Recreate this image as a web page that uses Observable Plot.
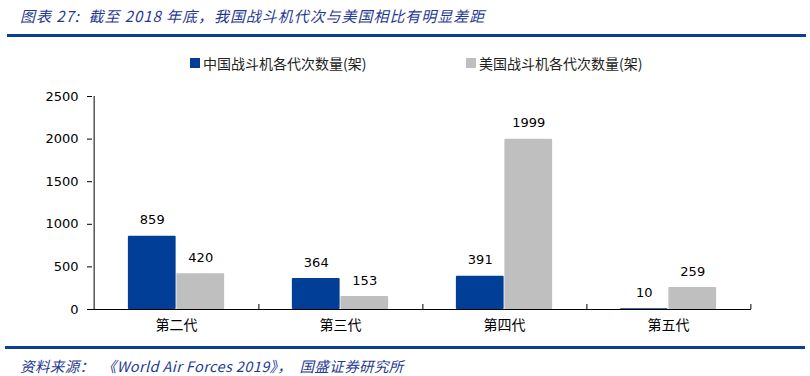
<!DOCTYPE html>
<html>
<head>
<meta charset="utf-8">
<script src="https://cdn.jsdelivr.net/npm/d3@7"></script>
<script src="https://cdn.jsdelivr.net/npm/@observablehq/plot@0.6"></script>
<style>
  body { margin: 0; background: #fff; }
  #wrap { position: relative; width: 810px; height: 376px; overflow: hidden; font-family: "DejaVu Sans", "Noto Sans CJK SC", sans-serif; }
  #wrap svg { position: absolute; left: 0; top: 0; }
  .title { position: absolute; left: 20px; top: 5px; font-family: "Noto Sans CJK SC", sans-serif; font-style: italic; font-size: 15px; color: #1F3A93; white-space: nowrap; letter-spacing: 0.95px; }
  .source { position: absolute; left: 20px; top: 355px; font-family: "Noto Sans CJK SC", sans-serif; font-style: italic; font-size: 14.5px; color: #1F3A93; white-space: pre; letter-spacing: 0.4px; }
  .hr { position: absolute; height: 3px; background: #0B3F93; }
  .leg { position: absolute; top: 53px; font-family: "Noto Sans CJK SC", sans-serif; font-size: 14px; color: #222; white-space: nowrap; display: flex; align-items: center; }
  .sw { width: 10px; height: 10px; display: inline-block; margin-right: 3px; }
</style>
</head>
<body>
<div id="wrap">
  <div class="title">图表 27:&nbsp; 截至 2018 年底，我国战斗机代次与美国相比有明显差距</div>
  <div class="hr" style="left:7px; width:799px; top:34px;"></div>
  <div class="leg" style="left:190px;"><span class="sw" style="background:#003E98"></span>中国战斗机各代次数量(架)</div>
  <div class="leg" style="left:466px;"><span class="sw" style="background:#BFBFBF"></span>美国战斗机各代次数量(架)</div>
  <div class="hr" style="left:5px; width:800px; top:346px;"></div>
  <div class="source">资料来源：  《World Air Forces 2019》，  国盛证券研究所</div>
</div>
<script>
const categories = ["第二代", "第三代", "第四代", "第五代"];
const seriesNames = ["中国战斗机各代次数量(架)", "美国战斗机各代次数量(架)"];
const chinaValues = [859, 364, 391, 10];
const usValues = [420, 153, 1999, 259];
const yTicks = [0, 500, 1000, 1500, 2000, 2500];
const colors = ["#003E98", "#BFBFBF"];

const data = [];
categories.forEach((c, i) => {
  data.push({cat: c, series: seriesNames[0], value: chinaValues[i]});
  data.push({cat: c, series: seriesNames[1], value: usValues[i]});
});

const W = 810, H = 376, mL = 92, mR = 59, mT = 96, mB = 67;
const step = (W - mL - mR) / categories.length;
const barW = 48.5;
const half = step / 2;

const chart = Plot.plot({
  width: W, height: H,
  marginLeft: mL, marginRight: mR, marginTop: mT, marginBottom: mB,
  style: {fontFamily: "DejaVu Sans, sans-serif", fontSize: "12.5px", color: "#000", background: "transparent"},
  x: {domain: categories, padding: 0, axis: null, label: null},
  y: {domain: [0, 2500], axis: null, label: null},
  color: {domain: seriesNames, range: colors},
  marks: [
    Plot.barY(data.filter(d => d.series === seriesNames[0]), {
      x: "cat", y: "value", fill: colors[0],
      insetLeft: half - barW, insetRight: half, rx: 1
    }),
    Plot.barY(data.filter(d => d.series === seriesNames[1]), {
      x: "cat", y: "value", fill: colors[1],
      insetLeft: half, insetRight: half - barW, rx: 1
    }),
    Plot.text(data.filter(d => d.series === seriesNames[0]), {
      x: "cat", y: "value", text: d => String(d.value), dx: -barW / 2, dy: -16,
      fill: "#000", fontSize: 13
    }),
    Plot.text(data.filter(d => d.series === seriesNames[1]), {
      x: "cat", y: "value", text: d => String(d.value), dx: barW / 2, dy: -16,
      fill: "#000", fontSize: 13
    }),
    // x axis baseline
    Plot.ruleY([0], {stroke: "#000", strokeWidth: 1}),
    // y axis line (at left edge of first band)
    Plot.ruleX([categories[0]], {x: d => d, dx: -half, y1: 0, y2: 2500, stroke: "#000", strokeWidth: 1}),
    // category boundary ticks (upward)
    Plot.ruleX(categories, {x: d => d, dx: half, y1: 0, y2: 0, insetTop: -5, stroke: "#000", strokeWidth: 1}),
    // y ticks and labels
    Plot.axisY(yTicks, {tickSize: 5, tickPadding: 9, fontSize: 13, anchor: "left", stroke: "#000", label: null, tickFormat: d => String(d)}),
    // category labels
    Plot.axisX(categories, {tickSize: 0, tickPadding: 11, fontSize: 14, label: null, fontFamily: "Noto Sans CJK SC, sans-serif"})
  ]
});
document.getElementById("wrap").prepend(chart);
</script>
</body>
</html>
